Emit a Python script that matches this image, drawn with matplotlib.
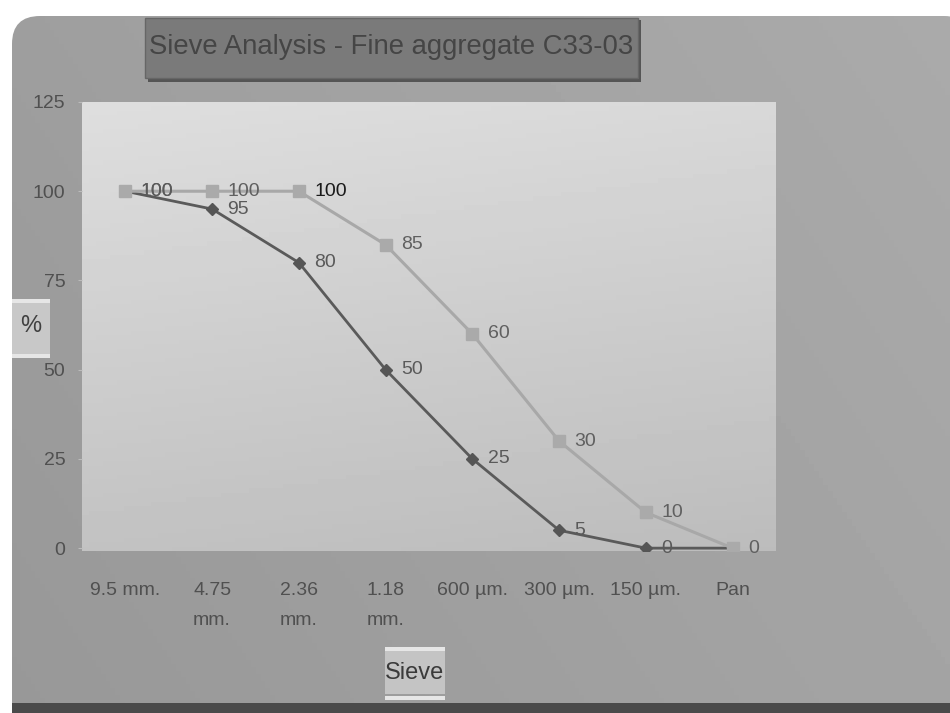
import numpy as np
import matplotlib.pyplot as plt
from matplotlib.patches import FancyBboxPatch, Rectangle

plt.rcParams['font.family'] = ['Liberation Sans Narrow', 'Liberation Sans', 'DejaVu Sans']

# sieve sizes and percent passing
sieves = ["9.5 mm.", "4.75\nmm.", "2.36\nmm.", "1.18\nmm.", "600 µm.", "300 µm.", "150 µm.", "Pan"]
passing_sample = [100, 95, 80, 50, 25, 5, 0, 0]
passing_limit = [100, 100, 100, 85, 60, 30, 10, 0]
y_ticks = [0, 25, 50, 75, 100, 125]

fig = plt.figure(figsize=(9.5, 7.13), dpi=100)
fig.patch.set_facecolor("white")

# gray rounded background panel with a soft gradient
bg = fig.add_axes([0, 0, 1, 1], zorder=-10)
bg.set_xlim(0, 950)
bg.set_ylim(713, 0)
bg.axis("off")
gx = np.linspace(0, 1, 200)
gy = np.linspace(0, 1, 200)
grad = 158 + 12 * gx[None, :] - 6 * gy[:, None]
img = bg.imshow(grad, cmap="gray", vmin=0, vmax=255, extent=[12, 950, 705, 16], aspect="auto")
panel = FancyBboxPatch((12, 16), 960, 720, boxstyle="round,pad=0,rounding_size=28",
                       facecolor="none", edgecolor="none", transform=bg.transData)
bg.add_patch(panel)
img.set_clip_path(panel)
bg.add_patch(Rectangle((12, 703), 938, 10, facecolor="#4a4a4a", edgecolor="none"))

# main plot area
ax = fig.add_axes([82 / 950, 1 - 551 / 713, 694 / 950, 449 / 713])
ax.set_xlim(-0.5, len(sieves) - 0.5)
ax.set_ylim(-0.8, 125)
shade = 222 - 28 * np.linspace(0, 1, 100)[:, None] - 6 * np.linspace(0, 1, 100)[None, :]
ax.imshow(shade, cmap="gray", vmin=0, vmax=255, extent=[-0.5, len(sieves) - 0.5, -0.8, 125],
          aspect="auto", zorder=0)
for s in ax.spines.values():
    s.set_visible(False)

x = np.arange(len(sieves))
ax.plot(x, passing_sample, color="#5a5a5a", lw=2, marker="D", ms=6,
        mfc="#555555", mec="#555555", zorder=3)
ax.plot(x, passing_limit, color="#a8a8a8", lw=2.2, marker="s", ms=8,
        mfc="#aaaaaa", mec="#aaaaaa", zorder=4)

for i, v in enumerate(passing_limit):
    c = "#1a1a1a" if i == 2 else "#606060"
    ax.annotate(str(v), (x[i], v), xytext=(11, 0), textcoords="offset points",
                ha="left", va="center", fontsize=14, color=c, zorder=5)
for i, v in enumerate(passing_sample):
    if i == len(sieves) - 1:
        continue
    ax.annotate(str(v), (x[i], v), xytext=(11, 0), textcoords="offset points",
                ha="left", va="center", fontsize=14, color="#5a5a5a", zorder=5)

ax.set_xticks(x)
ax.set_xticklabels(sieves, fontsize=14, color="#505050", linespacing=2.0, va="top")
ax.set_yticks(y_ticks)
ax.set_yticklabels([str(t) for t in y_ticks], fontsize=14, color="#505050")
ax.tick_params(axis="x", length=0, pad=22)
ax.tick_params(axis="y", length=3, color="#bbbbbb", pad=9)

# title box
fig.add_artist(Rectangle((148 / 950, 1 - 82 / 713), 493 / 950, 62 / 713,
                         facecolor="#555555", edgecolor="none", zorder=1))
fig.add_artist(Rectangle((145 / 950, 1 - 78 / 713), 493 / 950, 60 / 713,
                         facecolor="#7a7a7a", edgecolor="#666666", lw=1, zorder=2))
fig.text(391 / 950, 1 - 47 / 713, "Sieve Analysis - Fine aggregate C33-03",
         ha="center", va="center", fontsize=19.8, color="#454545", zorder=3)

# y axis label box
fig.add_artist(Rectangle((12 / 950, 1 - 354 / 713), 38 / 950, 52 / 713,
                         facecolor="#c8c8c8", edgecolor="none", zorder=1))
fig.add_artist(Rectangle((12 / 950, 1 - 303 / 713), 38 / 950, 4 / 713,
                         facecolor="#e6e6e6", edgecolor="none", zorder=2))
fig.add_artist(Rectangle((12 / 950, 1 - 358 / 713), 38 / 950, 4 / 713,
                         facecolor="#e6e6e6", edgecolor="none", zorder=2))
fig.text(31 / 950, 1 - 326 / 713, "%", ha="center", va="center", fontsize=17,
         color="#404040", zorder=3)

# x axis label box
fig.add_artist(Rectangle((385 / 950, 1 - 694 / 713), 60 / 950, 46 / 713,
                         facecolor="#c4c4c4", edgecolor="none", zorder=1))
fig.add_artist(Rectangle((385 / 950, 1 - 651 / 713), 60 / 950, 4 / 713,
                         facecolor="#e6e6e6", edgecolor="none", zorder=2))
fig.add_artist(Rectangle((385 / 950, 1 - 700 / 713), 60 / 950, 4 / 713,
                         facecolor="#e6e6e6", edgecolor="none", zorder=2))
fig.text(415 / 950, 1 - 673 / 713, "Sieve", ha="center", va="center", fontsize=17,
         color="#3a3a3a", zorder=3)

fig.savefig("out.png", dpi=100)
